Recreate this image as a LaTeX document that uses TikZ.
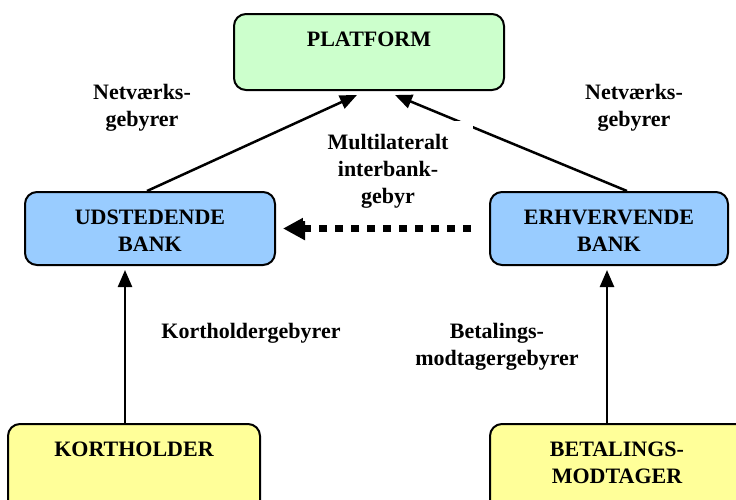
\documentclass[tikz,border=0pt]{standalone}
\usepackage{fontspec}
\setmainfont{Liberation Serif}
\usetikzlibrary{arrows.meta,positioning}
\definecolor{platgreen}{HTML}{CCFFCC}
\definecolor{bankblue}{HTML}{99CCFF}
\definecolor{partyellow}{HTML}{FFFF99}
\tikzset{
	box/.style={draw, line width=2pt, rounded corners=12pt, inner sep=0pt},
	txt/.style={font=\fontsize{22}{27}\selectfont\bfseries, align=center, inner sep=0pt},
	flow/.style={line width=2.5pt, -{Triangle[length=17pt,width=14pt]}},
	dotflow/.style={line width=7pt, dash pattern=on 8pt off 8pt, -{Triangle[length=22pt,width=22pt]}},
}
\begin{document}
\begin{tikzpicture}[x=1pt,y=-1pt]
	\useasboundingbox (0,0) rectangle (736,499);
	\clip (0,0) rectangle (736,499);
	% boxes
	\node[box, fill=platgreen, minimum width=270pt, minimum height=76pt] (platform) at (369,52) {};
	\node[box, fill=bankblue, minimum width=250pt, minimum height=73pt] (udsted) at (150,228.5) {};
	\node[box, fill=bankblue, minimum width=238pt, minimum height=73pt] (erhverv) at (609,228.5) {};
	\node[box, fill=partyellow, minimum width=252pt, minimum height=90pt] (kortholder) at (134,469) {};
	\node[box, fill=partyellow, minimum width=260pt, minimum height=90pt] (betaling) at (620,469) {};
	% box texts
	\node[txt, below=19pt of platform.north] (platformtxt) {PLATFORM};
	\node[txt, below=19pt of udsted.north] (udstedtxt) {UDSTEDENDE\\BANK};
	\node[txt, below=19pt of erhverv.north] (erhvervtxt) {ERHVERVENDE\\BANK};
	\node[txt, below=19pt of kortholder.north] (kortholdertxt) {KORTHOLDER};
	\node[txt, below=19pt of betaling.north, xshift=-3pt] (betalingtxt) {BETALINGS-\\MODTAGER};
	% fees
	\draw[flow] ([xshift=-3pt]udsted.north) -- ([xshift=-12pt,yshift=-4pt]platform.south);
	\draw[flow] ([xshift=18pt]erhverv.north) -- ([xshift=26pt,yshift=-4pt]platform.south);
	\draw[dotflow, shorten <=18pt, shorten >=7pt] (erhverv.west) -- (udsted.east);
	\draw[flow, shorten >=4pt] ([xshift=-9pt]kortholder.north) -- ([xshift=-25pt]udsted.south);
	\draw[flow, shorten >=4pt] ([xshift=-13pt]betaling.north) -- ([xshift=-2pt]erhverv.south);
	% labels
	\node[txt] (netleft) at (142,108) {Netværks-\\gebyrer};
	\node[txt] (netright) at (634,108) {Netværks-\\gebyrer};
	\node[txt, fill=white, anchor=north, inner xsep=0pt, inner ysep=13pt, minimum width=170pt] (mif) at (388,121) {Multilateralt\\interbank-\\gebyr};
	\node[txt] (kortfee) at (251,333) {Kortholdergebyrer};
	\node[txt] (betfee) at (497,347) {Betalings-\\modtagergebyrer};
\end{tikzpicture}
\end{document}
